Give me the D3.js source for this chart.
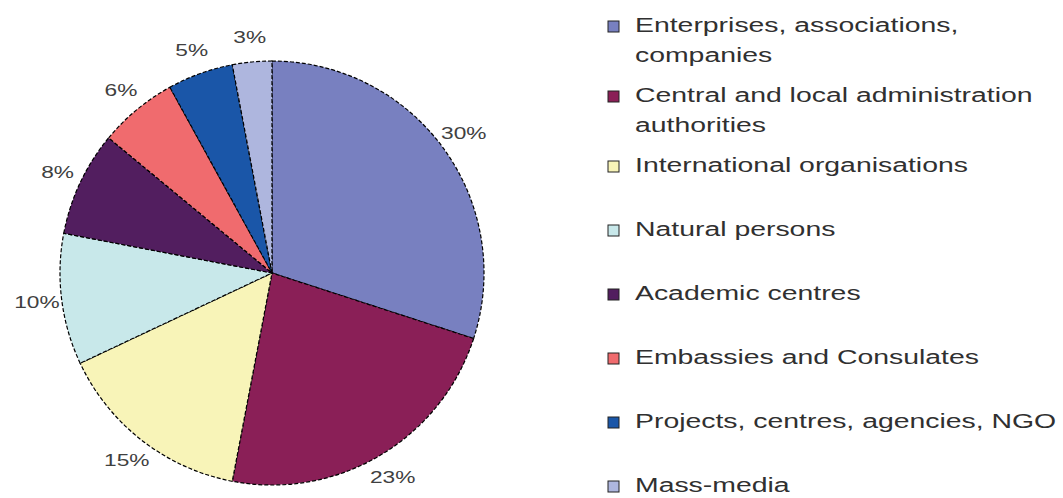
<!DOCTYPE html>
<html>
<head>
<meta charset="utf-8">
<script src="https://cdn.jsdelivr.net/npm/d3@7"></script>
<style>
  body { margin: 0; background: #fff; }
  svg { display: block; font-family: "Liberation Sans", Arial, sans-serif; }
</style>
</head>
<body>
<div id="chart"></div>
<script>
// data
const categories = [
    ["Enterprises, associations,", "companies"],
    ["Central and local administration", "authorities"],
    ["International organisations"],
    ["Natural persons"],
    ["Academic centres"],
    ["Embassies and Consulates"],
    ["Projects, centres, agencies, NGO"],
    ["Mass-media"]
];
const shares = [30, 23, 15, 10, 8, 6, 5, 3];
const colors = ["#7880c0", "#8a1f57", "#f8f4b8", "#c8e8ea", "#521e5f", "#f06b6e", "#1a56a8", "#aeb6de"];

const width = 1063, height = 498;
const cx = 272, cy = 273, radius = 212;
const stretch = 1.42; // text in the picture is drawn wide

const svg = d3.select("#chart")
    .append("svg")
    .attr("width", width)
    .attr("height", height);

const items = shares.map((v, i) => ({ value: v, label: categories[i], color: colors[i] }));

const pie = d3.pie().sort(null).value(d => d.value);
const arc = d3.arc().innerRadius(0).outerRadius(radius);
const labelArc = d3.arc().innerRadius(237).outerRadius(237);

const g = svg.append("g").attr("transform", `translate(${cx},${cy})`);

g.selectAll("path.slice")
    .data(pie(items))
    .enter()
    .append("path")
    .attr("class", "slice")
    .attr("d", arc)
    .attr("fill", d => d.data.color)
    .attr("stroke", "#000")
    .attr("stroke-width", 1.2)
    .attr("stroke-dasharray", "4,2");

// percentage labels
g.selectAll("text.pct")
    .data(pie(items))
    .enter()
    .append("text")
    .attr("class", "pct")
    .attr("transform", d => {
        const [x, y] = labelArc.centroid(d);
        return `translate(${x},${y}) scale(${stretch},1)`;
    })
    .attr("text-anchor", "middle")
    .attr("dominant-baseline", "central")
    .attr("font-size", 16)
    .attr("fill", "#404040")
    .text(d => d.data.value + "%");

// legend
const legendX = 608, textX = 635;
const pitch = 64, extraLine = 6, lineGap = 30;
let y = 32;
items.forEach((d, i) => {
    const row = svg.append("g");
    row.append("rect")
        .attr("x", legendX)
        .attr("y", y - 11)
        .attr("width", 11)
        .attr("height", 11)
        .attr("fill", d.color)
        .attr("stroke", "#222")
        .attr("stroke-width", 1);
    d.label.forEach((line, j) => {
        row.append("text")
            .attr("transform", `translate(${textX},${y + j * lineGap}) scale(${stretch},1)`)
            .attr("font-size", 20)
            .attr("fill", "#303030")
            .text(line);
    });
    y += pitch + (d.label.length - 1) * extraLine;
});
</script>
</body>
</html>
